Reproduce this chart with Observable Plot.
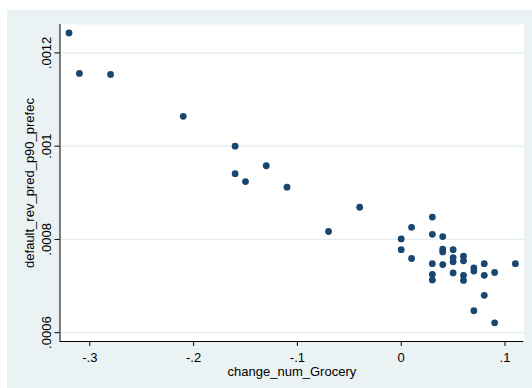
<!DOCTYPE html>
<html>
<head>
<meta charset="utf-8">
<script src="https://cdn.jsdelivr.net/npm/d3@7"></script>
<script src="https://cdn.jsdelivr.net/npm/@observablehq/plot@0.6"></script>
<style>
html, body { margin: 0; padding: 0; background: #ffffff; }
#chart { position: absolute; left: 7px; top: 10px; width: 525px; height: 378px; background: #eaf2f3; }
#chart svg { display: block; }
</style>
</head>
<body>
<div id="chart"></div>
<script>
// x values: change_num_Grocery
const changeNumGrocery = [
  -0.32, -0.31, -0.28, -0.21, -0.16, -0.16, -0.15, -0.13, -0.11, -0.07, -0.04,
  0.00, 0.00, 0.01, 0.01,
  0.03, 0.03, 0.03, 0.03, 0.03,
  0.04, 0.04, 0.04, 0.04,
  0.05, 0.05, 0.05, 0.05,
  0.06, 0.06, 0.06, 0.06,
  0.07, 0.07, 0.07,
  0.08, 0.08, 0.08,
  0.09, 0.09,
  0.11
];
// y values: default_rev_pred_p90_prefec
const defaultRevPred = [
  0.001243, 0.001156, 0.001154, 0.001064, 0.001000, 0.000941, 0.000924, 0.000958, 0.000912, 0.000817, 0.000869,
  0.000801, 0.000778, 0.000826, 0.000759,
  0.000848, 0.000811, 0.000748, 0.000725, 0.000713,
  0.000806, 0.000779, 0.000773, 0.000746,
  0.000778, 0.000761, 0.000752, 0.000728,
  0.000764, 0.000754, 0.000723, 0.000712,
  0.000739, 0.000732, 0.000647,
  0.000748, 0.000723, 0.000680,
  0.000729, 0.000621,
  0.000748
];
const xTicks = [-0.3, -0.2, -0.1, 0, 0.1];
const xTickLabels = ["-.3", "-.2", "-.1", "0", ".1"];
const yTicks = [0.0006, 0.0008, 0.001, 0.0012];
const yTickLabels = [".0006", ".0008", ".001", ".0012"];
const xTitle = "change_num_Grocery";
const yTitle = "default_rev_pred_p90_prefec";

const xDomain = [-0.3287, 0.1181];
const yDomain = [0.000581, 0.001261];

const data = changeNumGrocery.map((x, i) => ({x, y: defaultRevPred[i]}));

const chart = Plot.plot({
  width: 525,
  height: 378,
  marginLeft: 52.5,
  marginTop: 14,
  marginRight: 8.7,
  marginBottom: 47,
  x: {domain: xDomain},
  y: {domain: yDomain},
  style: {background: "transparent", fontFamily: "'Liberation Sans', Arial, Helvetica, sans-serif", fontSize: "13px", color: "#000"},
  marks: [
    Plot.frame({fill: "#ffffff", stroke: null}),
    Plot.gridY(yTicks, {stroke: "#e3ecee", strokeOpacity: 1, strokeWidth: 1.2}),
    Plot.dot(data, {x: "x", y: "y", r: 3.4, fill: "#1a476f", stroke: null}),
    Plot.ruleX([xDomain[0]], {stroke: "#000", strokeWidth: 1}),
    Plot.ruleY([yDomain[0]], {stroke: "#000", strokeWidth: 1}),
    Plot.axisX(xTicks, {tickSize: 5, tickPadding: 6.5, tickFormat: d => xTickLabels[xTicks.indexOf(d)], label: null, stroke: "#000"}),
    Plot.axisY(yTicks, {tickSize: 5, tickFormat: () => "", label: null, stroke: "#000"}),
    Plot.text(yTicks, {y: d => d, frameAnchor: "left", text: (d, i) => yTickLabels[i], rotate: -90, textAnchor: "middle", lineAnchor: "bottom", dx: -9.5, fill: "#000"}),
    Plot.text([xTitle], {frameAnchor: "bottom", text: d => d, lineAnchor: "bottom", dy: 34.3, fill: "#000"}),
    Plot.text([yTitle], {frameAnchor: "left", text: d => d, rotate: -90, textAnchor: "middle", lineAnchor: "bottom", dx: -26, fill: "#000"})
  ]
});
document.getElementById("chart").appendChild(chart);
</script>
</body>
</html>
